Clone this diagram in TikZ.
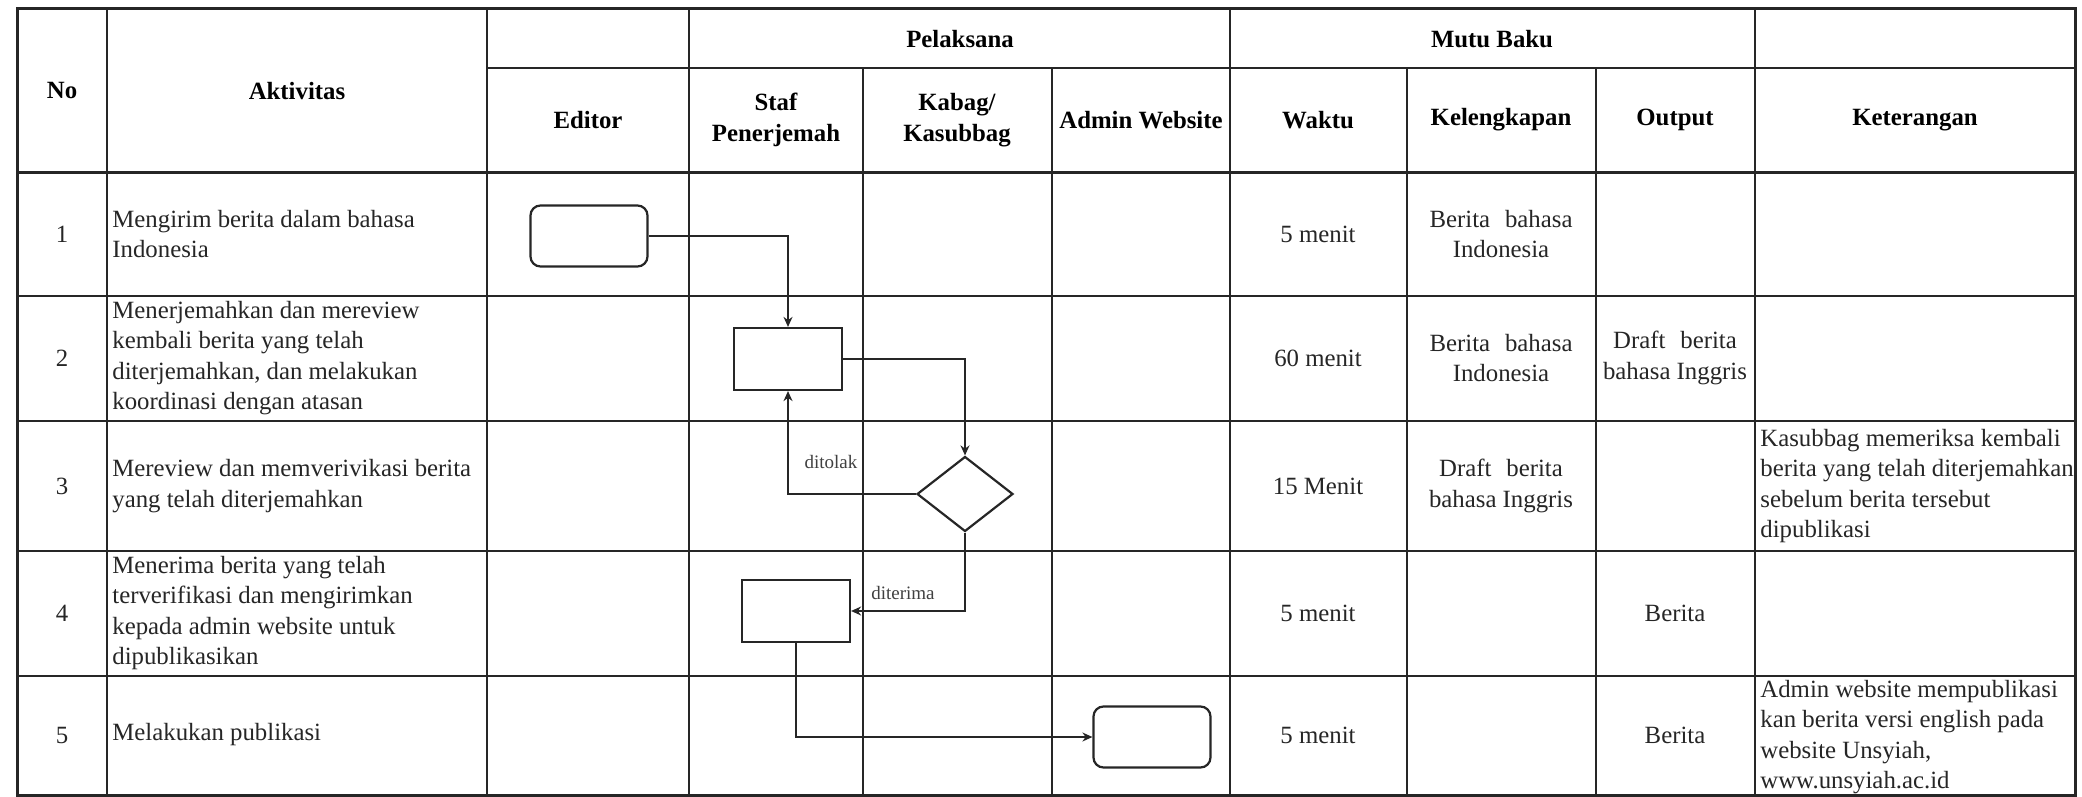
\documentclass[tikz,border=0pt]{standalone}
\usepackage{fontspec}
\setmainfont{Liberation Serif}
\usetikzlibrary{arrows.meta,shapes.geometric}
\tikzset{
 outerln/.style={line width=1.5pt, black!85},
 innerln/.style={line width=0.8pt, black!85},
 rowln/.style={line width=1.1pt, black!85},
 body/.style={font=\fontsize{12.4}{15.2}\selectfont, text=black!85, inner sep=0pt, align=center},
 hdr/.style={font=\fontsize{12.4}{15.2}\selectfont\bfseries, text=black, inner sep=0pt, align=center},
 lbody/.style={body, align=left, anchor=west},
 procbox/.style={draw=black!85, line width=1.1pt, minimum width=54pt, minimum height=31pt, inner sep=0pt},
 termbox/.style={procbox, rounded corners=5pt, minimum width=58.5pt, minimum height=30.5pt},
 decide/.style={draw=black!85, line width=1.1pt, diamond, minimum width=48pt, minimum height=37.5pt, inner sep=0pt},
 conn/.style={draw=black!85, line width=1.1pt, -{Stealth[length=5pt,width=4.5pt]}},
 flowlbl/.style={font=\fontsize{9.5}{11}\selectfont, text=black!75, inner sep=0pt},
}
\begin{document}
\begin{tikzpicture}[x=0.5pt,y=-0.5pt]
\useasboundingbox[fill=white] (0,0) rectangle (2082,797);
% ---- grid ----
\foreach \x in {107,487,689,1230,1755} \draw[innerln] (\x,9) -- (\x,795);
\foreach \x in {863,1052,1407,1596} \draw[innerln] (\x,68) -- (\x,795);
\draw[innerln] (487,68) -- (2075,68);
\foreach \y in {296,421,551,676} \draw[rowln] (17,\y) -- (2075,\y);
\draw[outerln] (17,172) -- (2075,172);
\draw[outerln] (17,9) rectangle (2075,795);
% ---- header ----
\node[hdr] (hNo) at (62,91) {No};
\node[hdr] (hAkt) at (297,91) {Aktivitas};
\node[hdr] (hEd) at (588,120) {Editor};
\node[hdr] (hPel) at (960,39) {Pelaksana};
\node[hdr] (hMutu) at (1492,39) {Mutu Baku};
\node[hdr] (hStaf) at (776,120) {Staf\\Penerjemah};
\node[hdr] (hKab) at (957,120) {Kabag/\\Kasubbag};
\node[hdr] (hAdm) at (1141,120) {Admin Website};
\node[hdr] (hWak) at (1318,120) {Waktu};
\node[hdr] (hKel) at (1501,120) {Kelengkapan};
\node[hdr] (hOut) at (1675,120) {Output};
\node[hdr] (hKet) at (1915,120) {Keterangan};
% ---- numbers ----
\node[body] (n1) at (62,234) {1};
\node[body] (n2) at (62,358) {2};
\node[body] (n3) at (62,486) {3};
\node[body] (n4) at (62,613) {4};
\node[body] (n5) at (62,735) {5};
% ---- activities ----
\node[lbody] (a1) at (112,234) {Mengirim berita dalam bahasa\\Indonesia};
\node[lbody] (a2) at (112,358) {Menerjemahkan dan mereview\\kembali berita yang telah\\diterjemahkan, dan melakukan\\koordinasi dengan atasan};
\node[lbody] (a3) at (112,486) {Mereview dan memverivikasi berita\\yang telah diterjemahkan};
\node[lbody] (a4) at (112,613) {Menerima berita yang telah\\terverifikasi dan mengirimkan\\kepada admin website untuk\\dipublikasikan};
\node[lbody] (a5) at (112,735) {Melakukan publikasi};
% ---- waktu ----
\node[body] (w1) at (1318,234) {5 menit};
\node[body] (w2) at (1318,358) {60 menit};
\node[body] (w3) at (1318,486) {15 Menit};
\node[body] (w4) at (1318,613) {5 menit};
\node[body] (w5) at (1318,735) {5 menit};
% ---- kelengkapan ----
\node[body] (k1) at (1501,234) {Berita\hspace{0.6em}bahasa\\Indonesia};
\node[body] (k2) at (1501,358) {Berita\hspace{0.6em}bahasa\\Indonesia};
\node[body] (k3) at (1501,486) {Draft\hspace{0.6em}berita\\bahasa Inggris};
% ---- output ----
\node[body] (o2) at (1675,358) {Draft\hspace{0.6em}berita\\bahasa Inggris};
\node[body] (o4) at (1675,613) {Berita};
\node[body] (o5) at (1675,735) {Berita};
% ---- keterangan ----
\node[lbody] (c3) at (1760,486) {Kasubbag memeriksa kembali\\berita yang telah diterjemahkan\\sebelum berita tersebut\\dipublikasi};
\node[lbody] (c5) at (1760,737) {Admin website mempublikasi\\kan berita versi english pada\\website Unsyiah,\\www.unsyiah.ac.id};
% ---- flow ----
\node[termbox] (ed) at (589,236) {};
\node[procbox] (s1) at (788,359) {};
\node[decide] (dm) at (965,494) {};
\node[procbox] (s2) at (796,611) {};
\node[termbox] (ad) at (1152,737) {};
\draw[conn] (ed.east) -| (s1.north);
\draw[conn] (s1.east) -| (dm.north);
\draw[conn] (dm.west) -| (s1.south);
\draw[conn] (dm.south) |- (s2.east);
\draw[conn] (s2.south) |- (ad.west);
\node[flowlbl] (ltol) at (831,462) {ditolak};
\node[flowlbl] (lter) at (903,593) {diterima};
\end{tikzpicture}
\end{document}
